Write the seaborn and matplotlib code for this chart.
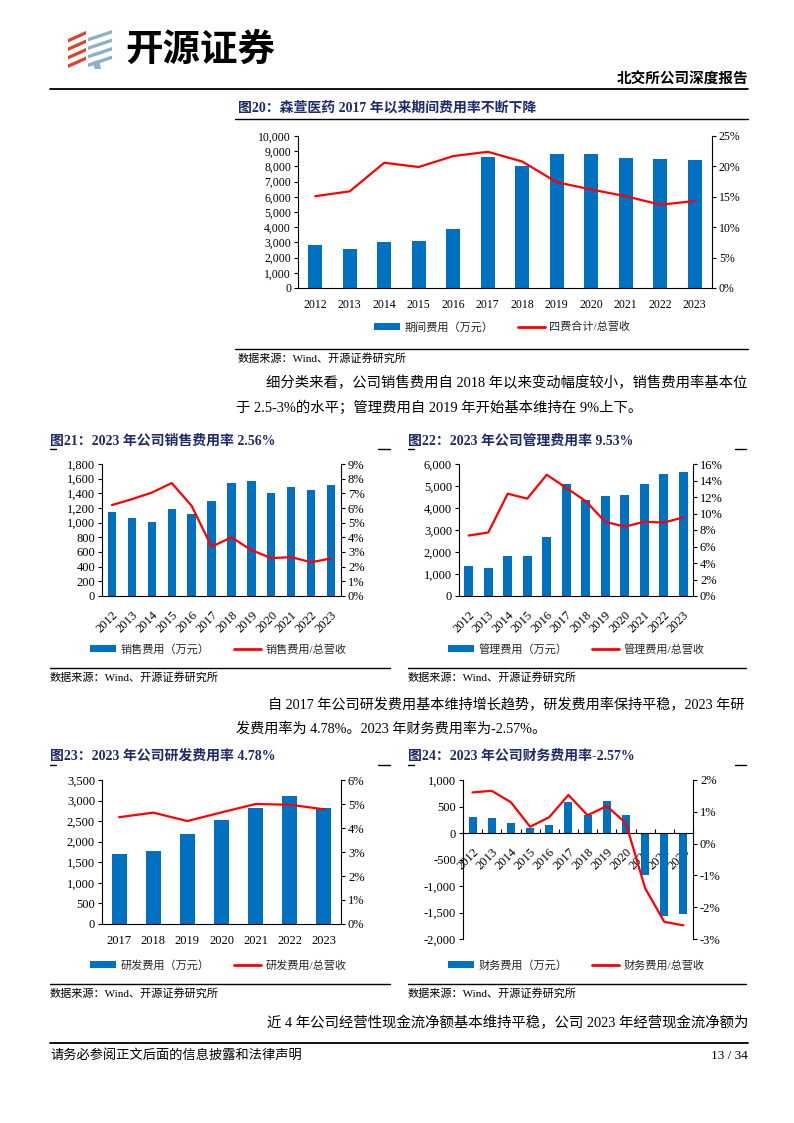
import numpy as np
import pandas as pd
import matplotlib
matplotlib.use('Agg')
import matplotlib.pyplot as plt
import seaborn as sns
from matplotlib.ticker import FuncFormatter, MultipleLocator
from matplotlib.patches import Patch, Polygon
from matplotlib.lines import Line2D

sns.set_theme(style='white')
plt.rcParams['font.family'] = ['Liberation Serif', 'Noto Sans CJK SC']
plt.rcParams['axes.unicode_minus'] = False

# ---------------- data ----------------
years_all = ['2012', '2013', '2014', '2015', '2016', '2017', '2018', '2019', '2020', '2021', '2022', '2023']
years_rd = ['2017', '2018', '2019', '2020', '2021', '2022', '2023']

period_exp = [2800, 2580, 3000, 3080, 3900, 8630, 8000, 8840, 8800, 8530, 8500, 8400]
period_rate = [15.1, 15.9, 20.6, 19.9, 21.7, 22.4, 20.8, 17.4, 16.2, 15.1, 13.7, 14.3]

sales_exp = [1150, 1070, 1010, 1190, 1115, 1290, 1545, 1575, 1400, 1485, 1445, 1510]
sales_rate = [6.2, 6.6, 7.05, 7.7, 6.15, 3.36, 4.0, 3.13, 2.58, 2.65, 2.3, 2.56]

admin_exp = [1370, 1280, 1830, 1830, 2690, 5100, 4380, 4560, 4600, 5100, 5560, 5650]
admin_rate = [7.33, 7.7, 12.4, 11.8, 14.7, 13.1, 11.5, 9.0, 8.4, 9.0, 8.9, 9.53]

rd_exp = [1700, 1780, 2190, 2530, 2820, 3110, 2820]
rd_rate = [4.45, 4.64, 4.29, 4.65, 5.0, 4.97, 4.78]

fin_exp = [300, 280, 190, 95, 150, 585, 340, 600, 340, -800, -1560, -1520]
fin_rate = [1.61, 1.66, 1.30, 0.53, 0.83, 1.53, 0.89, 1.18, 0.64, -1.40, -2.46, -2.57]

# ---------------- styling ----------------
W, H = 794, 1123
BLUE = '#0070C0'
RED = '#FF0000'
NAVY = '#1F2A6B'
FAM = ['Liberation Serif', 'Noto Sans CJK SC']

fig = plt.figure(figsize=(W / 100, H / 100), dpi=100)
fig.patch.set_facecolor('white')


def fx(x):
    return x / W


def fy(y):
    return 1 - y / H


def px_axes(l, t, r, b):
    return fig.add_axes([fx(l), fy(b), (r - l) / W, (b - t) / H])


def hline(x0, x1, y, lw=0.9, color='black'):
    fig.add_artist(Line2D([fx(x0), fx(x1)], [fy(y), fy(y)], transform=fig.transFigure,
                          color=color, lw=lw))


def text(x, y, s, size=10.5, ha='left', weight='normal', color='black', family=None):
    fig.text(fx(x), fy(y), s, ha=ha, va='center', fontsize=size, fontweight=weight,
             color=color, family=family or FAM)


def thousands(v, _):
    return f'{v:,.0f}'


def pct(v, _):
    return f'{v:.0f}%'


def combo(box, cats, bars, rates, ylim, ystep, rlim, rstep, labels, legend_xy,
          rotate=False, width=0.42, fs_y=9, fs_x=9, zero_axis=False, xpad=3):
    ax = px_axes(*box)
    df = pd.DataFrame({'cat': cats, 'val': bars})
    sns.barplot(data=df, x='cat', y='val', order=cats, color=BLUE, saturation=1,
                width=width, ax=ax, linewidth=0)
    ax2 = ax.twinx()
    df2 = pd.DataFrame({'pos': np.arange(len(cats)), 'rate': rates})
    sns.lineplot(data=df2, x='pos', y='rate', color=RED, lw=1.6, ax=ax2)
    ax.set_xlim(-0.5, len(cats) - 0.5)
    ax.set_ylim(*ylim)
    ax2.set_ylim(*rlim)
    for a in (ax, ax2):
        a.set_xlabel('')
        a.set_ylabel('')
        a.set_facecolor('none')
        for s in a.spines.values():
            s.set_visible(False)
            s.set_color('black')
            s.set_linewidth(0.8)
    ax.spines['left'].set_visible(True)
    ax.spines['bottom'].set_visible(True)
    ax2.spines['right'].set_visible(True)
    if zero_axis:
        ax.spines['bottom'].set_position(('data', 0))
    ax.yaxis.set_major_locator(MultipleLocator(ystep))
    ax2.yaxis.set_major_locator(MultipleLocator(rstep))
    ax.yaxis.set_major_formatter(FuncFormatter(thousands))
    ax2.yaxis.set_major_formatter(FuncFormatter(pct))
    ax.tick_params(axis='y', left=True, length=3, width=0.8, color='black',
                   labelsize=fs_y, labelcolor='black', pad=2)
    ax2.tick_params(axis='y', right=True, length=3, width=0.8, color='black',
                    labelsize=fs_y, labelcolor='black', pad=2)
    ax.set_xticks(range(len(cats)))
    if rotate:
        ax.set_xticklabels(cats, rotation=45, ha='right', rotation_mode='anchor')
    else:
        ax.set_xticklabels(cats)
    ax.tick_params(axis='x', bottom=False, labelsize=fs_x, labelcolor='black', pad=xpad)
    if zero_axis:
        ax.set_xticks(np.arange(len(cats) + 1) - 0.5, minor=True)
        ax.tick_params(axis='x', which='minor', bottom=True, direction='in', length=3,
                       width=0.8, color='black')
    ax2.set_xlim(-0.5, len(cats) - 0.5)
    handles = [Patch(facecolor=BLUE, edgecolor='none'),
               Line2D([], [], color=RED, lw=2)]
    fig.legend(handles, labels, loc='center', bbox_to_anchor=(fx(legend_xy[0]), fy(legend_xy[1])),
               ncol=2, frameon=False, handlelength=2.4, handleheight=0.6,
               handletextpad=0.4, columnspacing=2.2, prop={'family': FAM, 'size': 8})
    return ax, ax2


# ---------------- header ----------------
red_logo = '#D9432F'
blue_logo = '#8FB1C6'
for i in range(4):
    y0 = 31 + i * 8.5
    fig.add_artist(Polygon([(fx(68), fy(y0 + 8)), (fx(86), fy(y0)), (fx(86), fy(y0 + 3.5)),
                            (fx(68), fy(y0 + 11.5))], closed=True, transform=fig.transFigure,
                           facecolor=red_logo, edgecolor='none'))
for i in range(4):
    y0 = 30 + i * 8.5
    fig.add_artist(Polygon([(fx(88), fy(y0 + 8)), (fx(112), fy(y0)), (fx(112), fy(y0 + 3.5)),
                            (fx(88), fy(y0 + 11.5))], closed=True, transform=fig.transFigure,
                           facecolor=blue_logo, edgecolor='none'))
fig.add_artist(Polygon([(fx(92), fy(62)), (fx(99), fy(60)), (fx(101), fy(69)), (fx(95), fy(69))],
                       closed=True, transform=fig.transFigure, facecolor=blue_logo, edgecolor='none'))
text(125, 49, '开源证券', size=27, weight='bold', family=['Noto Sans CJK SC'])
text(748, 80, '北交所公司深度报告', size=10.5, ha='right', weight='bold')
hline(50, 748, 89, lw=1.3)

# ---------------- figure 20 ----------------
text(238, 108, '图20：森萱医药 2017 年以来期间费用率不断下降', size=10, weight='bold', color=NAVY)
hline(235, 748, 119, lw=1)
combo((298, 136, 712, 288), years_all, period_exp, period_rate, (0, 10000), 1000, (0, 25), 5,
      ['期间费用（万元）', '四费合计/总营收'], (502, 327), width=0.40, fs_y=8.5, fs_x=8.5,
      xpad=2)
hline(235, 748, 349, lw=1)
text(238, 358, '数据来源：Wind、开源证券研究所', size=8)

text(266, 383, '细分类来看，公司销售费用自 2018 年以来变动幅度较小，销售费用率基本位', size=10.33)
text(236, 408, '于 2.5-3%的水平；管理费用自 2019 年开始基本维持在 9%上下。', size=10.33)

# ---------------- figure 21 / 22 ----------------
text(50, 441, '图21：2023 年公司销售费用率 2.56%', size=10, weight='bold', color=NAVY)
text(408, 441, '图22：2023 年公司管理费用率 9.53%', size=10, weight='bold', color=NAVY)
hline(50, 56, 449, lw=1)
hline(378, 390, 449, lw=1)
hline(408, 414, 449, lw=1)
hline(735, 746, 449, lw=1)
combo((102, 464, 341, 596), years_all, sales_exp, sales_rate, (0, 1800), 200, (0, 9), 1,
      ['销售费用（万元）', '销售费用/总营收'], (218, 649), rotate=True, width=0.42)
combo((459, 464, 693, 596), years_all, admin_exp, admin_rate, (0, 6000), 1000, (0, 16), 2,
      ['管理费用（万元）', '管理费用/总营收'], (576, 649), rotate=True, width=0.46)
hline(50, 390, 668, lw=1)
hline(408, 746, 668, lw=1)
text(50, 677, '数据来源：Wind、开源证券研究所', size=8)
text(408, 677, '数据来源：Wind、开源证券研究所', size=8)

text(268, 705, '自 2017 年公司研发费用基本维持增长趋势，研发费用率保持平稳，2023 年研', size=10.2)
text(236, 729, '发费用率为 4.78%。2023 年财务费用率为-2.57%。', size=10.2)

# ---------------- figure 23 / 24 ----------------
text(50, 756, '图23：2023 年公司研发费用率 4.78%', size=10, weight='bold', color=NAVY)
text(408, 756, '图24：2023 年公司财务费用率-2.57%', size=10, weight='bold', color=NAVY)
hline(50, 56, 765, lw=1)
hline(378, 390, 765, lw=1)
hline(408, 414, 765, lw=1)
hline(735, 746, 765, lw=1)
combo((102, 780, 341, 924), years_rd, rd_exp, rd_rate, (0, 3500), 500, (0, 6), 1,
      ['研发费用（万元）', '研发费用/总营收'], (218, 965), width=0.44, fs_x=9, xpad=2)
combo((463, 780, 693, 939), years_all, fin_exp, fin_rate, (-2000, 1000), 500, (-3, 2), 1,
      ['财务费用（万元）', '财务费用/总营收'], (576, 965), rotate=True, width=0.42,
      zero_axis=True)
hline(50, 390, 984, lw=1)
hline(408, 746, 984, lw=1)
text(50, 993, '数据来源：Wind、开源证券研究所', size=8)
text(408, 993, '数据来源：Wind、开源证券研究所', size=8)

text(267, 1023, '近 4 年公司经营性现金流净额基本维持平稳，公司 2023 年经营现金流净额为', size=10.38)

# ---------------- footer ----------------
hline(50, 748, 1043, lw=1.3)
text(50, 1056, '请务必参阅正文后面的信息披露和法律声明', size=9.5)
text(748, 1056, '13 / 34', size=9.5, ha='right')

fig.savefig('out.png', dpi=100, facecolor='white')
